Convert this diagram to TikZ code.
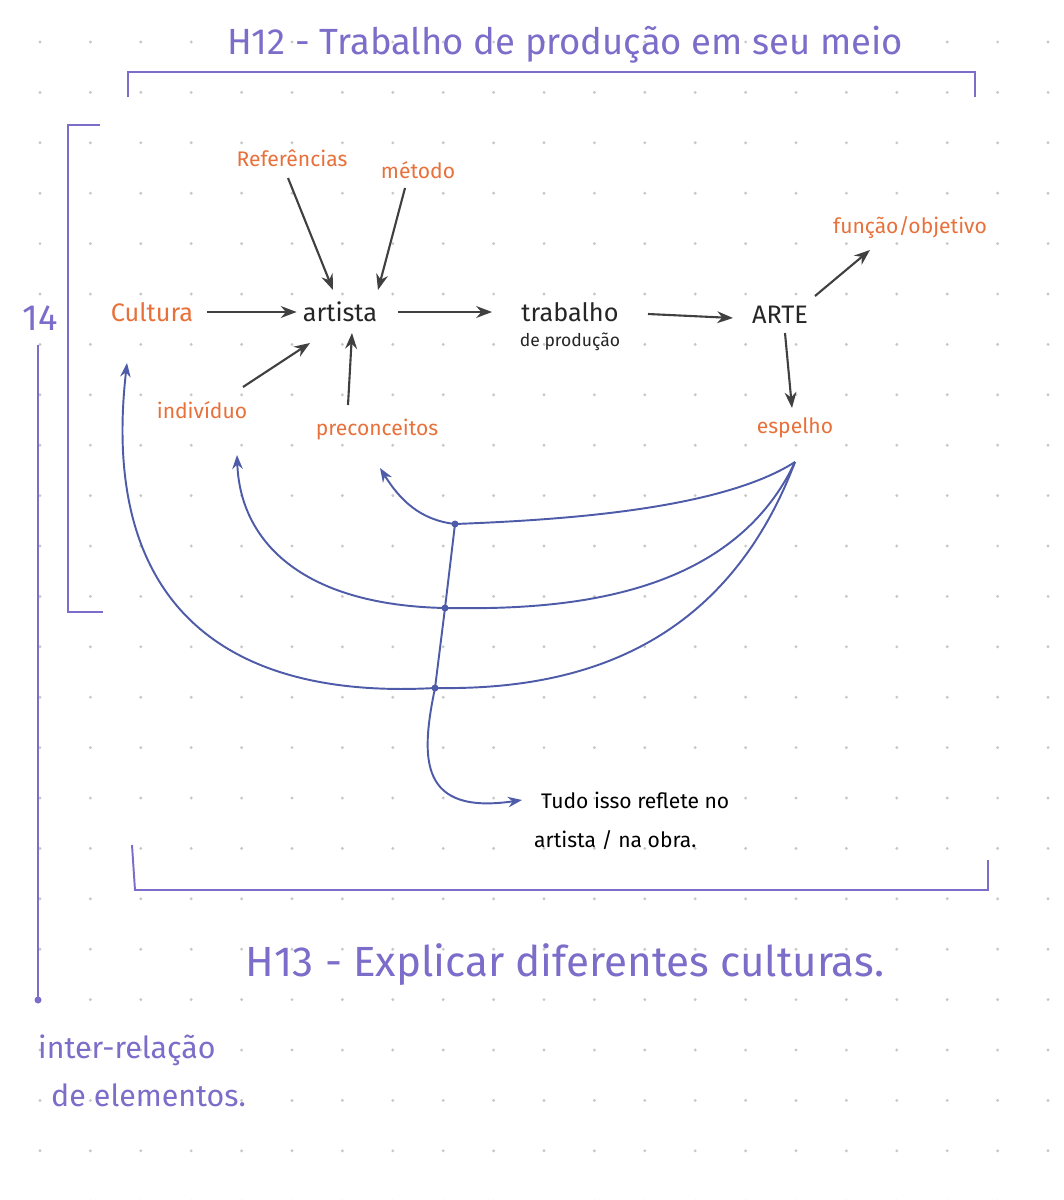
\documentclass[tikz,border=0pt]{standalone}
\usepackage{fontspec}
\setmainfont{Fira Sans}
\usetikzlibrary{arrows.meta}
\definecolor{purp}{HTML}{7B6DC9}
\definecolor{blu}{HTML}{4E5BA8}
\definecolor{ora}{HTML}{E8703A}
\definecolor{dotc}{HTML}{C8C8C8}
\begin{document}
\begin{tikzpicture}[x=0.02cm,y=-0.02cm,
  org/.style={text=ora,font=\large},
  blk/.style={text=black!85,font=\Large},
  pur/.style={text=purp,font=\Large},
  arr/.style={-{Stealth[length=9pt]},black!75,line width=1.2pt},
  barr/.style={-{Stealth[length=8pt]},blu,line width=1.1pt},
  brk/.style={purp,line width=1.1pt}]
\useasboundingbox (0,0) rectangle (1063,1200);
\fill[white] (0,0) rectangle (1063,1200);
\foreach \i in {0,...,20} \foreach \j in {0,...,23}
  \fill[dotc] (40+50.4*\i,42+50.4*\j) circle (1.6);
% titles and brackets
\node[pur,font=\huge] (h12) at (565,45) {H12 - Trabalho de produção em seu meio};
\draw[brk] (128,97) -- (128,72) -- (975,72) -- (975,97);
\draw[brk] (100,125) -- (68,125) -- (68,612) -- (103,612);
\node[pur,font=\huge] (h14) at (40,318) {14};
\coordinate (vtop) at (38,345);
\coordinate (vbot) at (38,1000);
\draw[brk] (vtop) -- (vbot);
\fill[purp] (vbot) circle (3.5);
\node[pur,font=\LARGE,anchor=west] (ir1) at (32,1050) {inter-relação};
\node[pur,font=\LARGE,anchor=west] (ir2) at (45,1095) {de elementos.};
\draw[brk] (132,845) -- (135,890) -- (988,890) -- (988,860);
\node[pur,font=\fontsize{24}{28}\selectfont] (h13) at (565,965) {H13 - Explicar diferentes culturas.};
% nodes
\node[org] (ref) at (292,158) {Referências};
\node[org] (met) at (418,170) {método};
\node[org] (fun) at (910,228) {função/objetivo};
\node[org,font=\Large] (cul) at (152,312) {Cultura};
\node[org] (ind) at (202,410) {indivíduo};
\node[org] (pre) at (377,430) {preconceitos};
\node[org] (esp) at (795,428) {espelho};
\node[blk] (art) at (340,312) {artista};
\node[blk] (tra) at (570,312) {trabalho};
\node[text=black!85] (tra2) at (570,342) {de produção};
\node[blk] (arte) at (780,315) {ARTE};
% arrows
\draw[arr] (cul.east) ++(8,0) -- (art.west);
\draw[arr] (288,178) -- (333,290);
\draw[arr] (405,188) -- (378,290);
\draw[arr] (243,387) -- (310,343);
\draw[arr] (348,405) -- (352,333);
\draw[arr] (art.east) ++(15,0) -- (492,312);
\draw[arr] (648,314) -- (733,318);
\draw[arr] (815,296) -- (870,250);
\draw[arr] (785,333) -- (792,408);
% blue curves
\coordinate (src) at (795,462);
\coordinate (p1) at (455,524);
\coordinate (p2) at (445,608);
\coordinate (p3) at (435,688);
\coordinate (end) at (522,800);
\draw[barr] (src) .. controls (720,510) and (560,520) .. (p1) .. controls (420,520) and (400,500) .. (380,468);
\draw[barr] (src) .. controls (730,600) and (560,610) .. (p2) .. controls (300,605) and (240,540) .. (237,455);
\draw[barr] (src) .. controls (720,660) and (560,690) .. (p3) .. controls (220,700) and (100,600) .. (127,363);
\draw[blu,line width=1.1pt] (p1) -- (p2) -- (p3);
\draw[barr] (p3) .. controls (420,760) and (420,815) .. (end);
\foreach \p in {p1,p2,p3} \fill[blu] (\p) circle (3.5);
\node[text=black,font=\large,anchor=west] (t1) at (535,800) {Tudo isso reflete no};
\node[text=black,font=\large,anchor=west] (t2) at (528,840) {artista / na obra.};
\end{tikzpicture}
\end{document}
